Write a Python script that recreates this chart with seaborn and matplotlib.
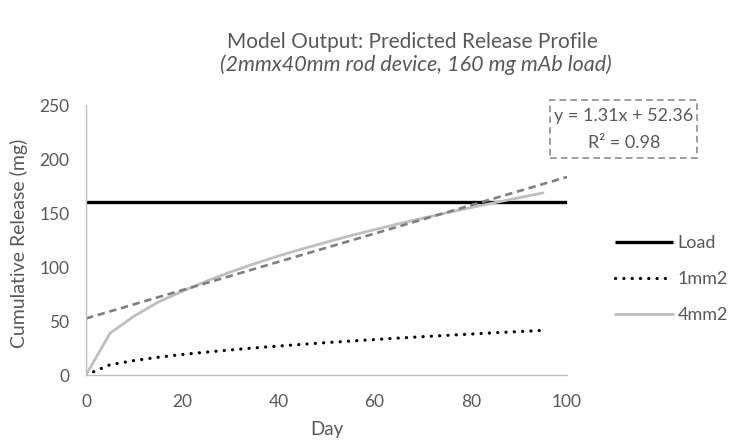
import numpy as np
import pandas as pd
import matplotlib
matplotlib.use("Agg")
import matplotlib.pyplot as plt
import seaborn as sns
from matplotlib.patches import Rectangle

# --- data -----------------------------------------------------------------
days = [0, 5, 10, 15, 20, 25, 30, 35, 40, 45, 50, 55, 60, 65, 70, 75, 80, 85, 90, 95]
release_1mm2 = [0, 9.5, 13.4, 16.4, 19.0, 21.2, 23.2, 25.1, 26.8, 28.4,
                30.0, 31.4, 32.8, 34.2, 35.5, 36.7, 37.9, 39.1, 40.2, 41.3]
release_4mm2 = [0, 38.7, 54.5, 67.5, 77.5, 86.8, 95.3, 103.0, 110.2, 116.8,
                123.0, 129.0, 134.6, 140.0, 145.2, 150.2, 155.0, 159.6, 164.1, 168.6]
load_days = [0, 100]
load_mg = [160, 160]
trend_slope = 1.31
trend_intercept = 52.36
trend_r2 = 0.98
x_ticks = [0, 20, 40, 60, 80, 100]
y_ticks = [0, 50, 100, 150, 200, 250]

# --- style ----------------------------------------------------------------
sns.set_theme(style="white")
plt.rcParams["font.family"] = ["Lato", "DejaVu Sans"]
text_grey = "#595959"

fig = plt.figure(figsize=(7.29, 4.44), dpi=100)
ax = fig.add_axes([86 / 729, 69 / 444, 481 / 729, 270 / 444])

sns.lineplot(x=load_days, y=load_mg, ax=ax, color="#000000", lw=2.4,
             label="Load", solid_capstyle="butt")
sns.lineplot(x=days, y=release_1mm2, ax=ax, color="#000000", lw=2.3,
             label="1mm2", linestyle=(0, (0.05, 2.55)), dash_capstyle="round")
sns.lineplot(x=days, y=release_4mm2, ax=ax, color="#bfbfbf", lw=2.0,
             label="4mm2")

# linear trend of the 4mm2 series
trend_x = np.array([0, 100])
trend_y = trend_slope * trend_x + trend_intercept
sns.lineplot(x=trend_x, y=trend_y, ax=ax, color="#7f7f7f", lw=1.9,
             linestyle=(0, (2.8, 1.8)), legend=False)

ax.set_xlim(0, 100)
ax.set_ylim(0, 250)
ax.set_xticks(x_ticks)
ax.set_yticks(y_ticks)
ax.tick_params(axis="both", length=0, labelsize=12.5, labelcolor=text_grey)
ax.tick_params(axis="y", pad=12)
ax.tick_params(axis="x", pad=14)
for side in ("top", "right"):
    ax.spines[side].set_visible(False)
for side in ("left", "bottom"):
    ax.spines[side].set_color("#bfbfbf")
    ax.spines[side].set_linewidth(1.0)

ax.set_xlabel("Day", fontsize=13.5, color=text_grey)
ax.set_ylabel("Cumulative Release (mg)", fontsize=14, color=text_grey)
ax.xaxis.set_label_coords(0.501, -0.172)
ax.yaxis.set_label_coords(-0.12, 0.489)

# titles
fig.text(412 / 729, 1 - 42 / 444, "Model Output: Predicted Release Profile",
         ha="center", va="center", fontsize=15, color=text_grey)
fig.text(416 / 729, 1 - 65 / 444, "(2mmx40mm rod device, 160 mg mAb load)",
         ha="center", va="center", fontsize=15.5, color=text_grey, style="italic")

# legend on the right
handles, labels = ax.get_legend_handles_labels()
ax.get_legend().remove()
fig.legend(handles, labels, loc="center left", bbox_to_anchor=(615 / 729, 1 - 279 / 444),
           frameon=False, fontsize=13, labelcolor=text_grey, handlelength=3.2,
           handletextpad=0.28, labelspacing=1.1, borderpad=0, borderaxespad=0)

# trendline equation box
fig.patches.append(Rectangle((550 / 729, 1 - 158 / 444), 147 / 729, 58 / 444,
                             transform=fig.transFigure, fill=False,
                             edgecolor="#8c8c8c", lw=1.2, linestyle=(0, (4, 2.5))))
fig.text(624 / 729, 1 - 116 / 444, f"y = {trend_slope:.2f}x + {trend_intercept:.2f}",
         ha="center", va="center", fontsize=13, color=text_grey)
fig.text(624 / 729, 1 - 143 / 444, f"R² = {trend_r2:.2f}",
         ha="center", va="center", fontsize=13, color=text_grey)

fig.savefig("out.png", dpi=100)
